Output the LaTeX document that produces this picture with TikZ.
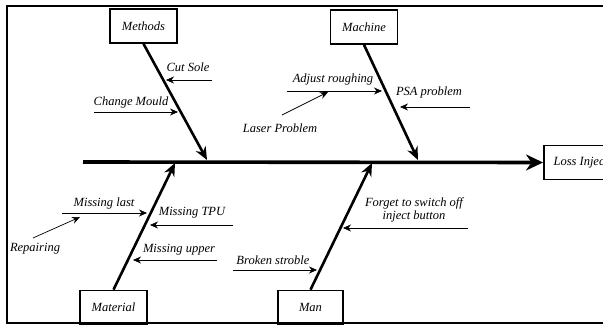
\documentclass[tikz,border=0pt]{standalone}
\usepackage{fontspec}
\setmainfont{Liberation Serif}
\usetikzlibrary{arrows.meta}

\tikzset{
  cause/.style={draw, line width=1.6pt, minimum width=67pt, minimum height=34pt,
    inner sep=2pt, font=\itshape\fontsize{12.5}{13.5}\selectfont},
  bone/.style={line width=2.6pt, -{Stealth[length=13pt,width=11pt]}},
  spine/.style={line width=3.6pt, -{Stealth[length=17pt,width=16pt]}},
  sub/.style={line width=0.7pt, -{Stealth[length=8pt,width=7pt]}},
  lbl/.style={inner sep=0pt, font=\itshape\fontsize{12.5}{13.5}\selectfont}
}

\begin{document}
\begin{tikzpicture}[x=1pt,y=-1pt]
\useasboundingbox (0,0) rectangle (603,326);
\clip (0,0) rectangle (603,326);
% frame
\draw[line width=1.4pt] (620,6) -- (7,6) -- (7,323) -- (620,323);

% main boxes
\node[cause] (methods) at (143.5,26) {Methods};
\node[cause] (machine) at (364,27) {Machine};
\node[cause] (material) at (113.5,307.5) {Material};
\node[cause, minimum width=65pt] (man) at (310.5,307.5) {Man};
\node[cause, anchor=west, minimum width=90pt, align=left] (loss) at (543,162.5) {Loss Injection};

% spine and bones
\coordinate (tail) at (83,162);
\coordinate (m1) at (207,160);
\coordinate (m2) at (418,160);
\coordinate (m3) at (175,163);
\coordinate (m4) at (372,163);
\draw[spine] (tail) -- (loss.west);
\draw[bone] (methods.south) -- (m1);
\draw[bone] (machine.south) -- (m2);
\draw[bone] (material.north) -- (m3);
\draw[bone] (man.north) -- (m4);

% Methods
\coordinate (cs0) at (212,80);  \coordinate (cs1) at (166,80);
\coordinate (cm0) at (94,112);  \coordinate (cm1) at (178,112);
\draw[sub] (cs0) -- (cs1);
\draw[sub] (cm0) -- (cm1);
\node[lbl] (cutsole) at (188,67) {Cut Sole};
\node[lbl] (mould) at (131,102) {Change Mould};

% Machine
\coordinate (ar0) at (287,91);  \coordinate (ar1) at (382,91);
\coordinate (lp0) at (282,115); \coordinate (lp1) at (328,92);
\coordinate (psa0) at (470,107); \coordinate (psa1) at (400,107);
\draw[sub] (ar0) -- (ar1);
\draw[sub] (lp0) -- (lp1);
\draw[sub] (psa0) -- (psa1);
\node[lbl] (adjust) at (333,79) {Adjust roughing};
\node[lbl] (laser) at (280,128) {Laser Problem};
\node[lbl] (psa) at (429,92) {PSA problem};

% Material
\coordinate (ml0) at (62,213);  \coordinate (ml1) at (147,213);
\coordinate (rp0) at (33,238);  \coordinate (rp1) at (80,217);
\coordinate (tpu0) at (233,225); \coordinate (tpu1) at (150,225);
\coordinate (up0) at (217,260); \coordinate (up1) at (133,260);
\draw[sub] (ml0) -- (ml1);
\draw[sub] (rp0) -- (rp1);
\draw[sub] (tpu0) -- (tpu1);
\draw[sub] (up0) -- (up1);
\node[lbl] (last) at (104,203) {Missing last};
\node[lbl] (repair) at (35,249) {Repairing};
\node[lbl] (tpu) at (192,213) {Missing TPU};
\node[lbl] (upper) at (179,250) {Missing upper};

% Man
\coordinate (bs0) at (233,270); \coordinate (bs1) at (317,270);
\coordinate (fg0) at (468,228); \coordinate (fg1) at (343,228);
\draw[sub] (bs0) -- (bs1);
\draw[sub] (fg0) -- (fg1);
\node[lbl] (strobel) at (273,260) {Broken stroble};
\node[lbl, align=center] (forget) at (414,210) {Forget to switch off\\inject button};
\end{tikzpicture}
\end{document}
